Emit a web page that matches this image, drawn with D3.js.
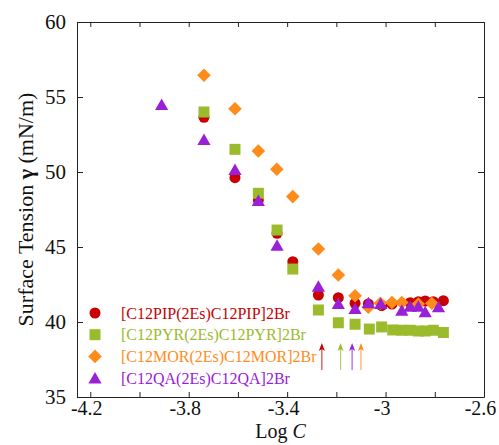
<!DOCTYPE html>
<html>
<head>
<meta charset="utf-8">
<script src="https://cdn.jsdelivr.net/npm/d3@7"></script>
<style>
  body { margin: 0; background: #fff; }
  text { font-family: "Liberation Serif", "Times New Roman", serif; }
</style>
</head>
<body>
<div id="chart"></div>
<script>
// series data (log C, surface tension)
const pipLogC = [-3.738, -3.612, -3.517, -3.441, -3.377, -3.273, -3.192, -3.124, -3.070, -3.016, -2.974, -2.900, -2.867, -2.839, -2.806, -2.765];
const pipGamma = [53.65, 49.62, 48.13, 45.91, 44.02, 41.8, 41.62, 41.25, 41.2, 41.1, 41.2, 41.29, 41.35, 41.4, 41.35, 41.42];

const pyrLogC = [-3.738, -3.612, -3.517, -3.441, -3.377, -3.273, -3.192, -3.124, -3.066, -3.016, -2.971, -2.934, -2.900, -2.867, -2.839, -2.806, -2.765];
const pyrGamma = [54.0, 51.51, 48.58, 46.13, 43.53, 40.8, 39.95, 39.85, 39.53, 39.67, 39.47, 39.45, 39.45, 39.4, 39.4, 39.45, 39.3];

const morLogC = [-3.738, -3.612, -3.517, -3.442, -3.377, -3.273, -3.192, -3.124, -3.070, -3.021, -2.974, -2.934, -2.867, -2.812];
const morGamma = [56.45, 54.22, 51.4, 50.18, 48.36, 44.87, 43.13, 41.75, 40.98, 41.25, 41.3, 41.3, 41.2, 41.25];

const qaLogC = [-3.910, -3.738, -3.612, -3.517, -3.441, -3.273, -3.192, -3.124, -3.070, -3.020, -2.934, -2.900, -2.867, -2.839, -2.785];
const qaGamma = [54.47, 52.13, 50.13, 48.07, 45.08, 42.35, 41.2, 40.87, 41.25, 41.2, 40.75, 41.02, 41.02, 40.65, 40.98];

const seriesNames = ["[C12PIP(2Es)C12PIP]2Br", "[C12PYR(2Es)C12PYR]2Br", "[C12MOR(2Es)C12MOR]2Br", "[C12QA(2Es)C12QA]2Br"];
const seriesColors = ["#c80000", "#9bbb2c", "#ff8c1a", "#9a20d8"];
const seriesShapes = ["circle", "square", "diamond", "triangle"];

// CMC arrows (log C)
const cmcLogC = [-3.259, -3.183, -3.136, -3.100];
const cmcColors = ["#c80000", "#9bbb2c", "#9a20d8", "#ff8c1a"];

const xTicks = [-4.2, -4.0, -3.8, -3.6, -3.4, -3.2, -3.0, -2.8, -2.6];
const xLabelTicks = [-4.2, -3.8, -3.4, -3.0, -2.6];
const yTicks = [35, 40, 45, 50, 55, 60];

const W = 499, H = 445;
const margin = { top: 22, right: 15, bottom: 48, left: 77 };
const serif = '"Liberation Serif", "Times New Roman", serif';

const svg = d3.select("#chart").append("svg")
  .attr("width", W).attr("height", H)
  .attr("font-family", serif);

const x = d3.scaleLinear().domain([-4.254, -2.6]).range([margin.left, W - margin.right]);
const y = d3.scaleLinear().domain([35, 60]).range([H - margin.bottom, margin.top]);

const frameColor = "#222";

function styleAxis(g) {
  g.attr("font-family", serif).attr("font-size", 21);
  g.selectAll("path, line").attr("stroke", frameColor).attr("stroke-width", 1);
  g.selectAll("text").attr("fill", "#111");
}

// bottom axis with labels every 0.4
svg.append("g")
  .attr("transform", `translate(0,${H - margin.bottom})`)
  .call(d3.axisBottom(x).tickValues(xTicks).tickSizeInner(-5).tickSizeOuter(0).tickPadding(4)
    .tickFormat(d => xLabelTicks.includes(d) ? String(d) : ""))
  .call(styleAxis)
  .call(g => g.attr("font-size", 20).selectAll("text").attr("dx", -4));

svg.append("g")
  .attr("transform", `translate(0,${margin.top})`)
  .call(d3.axisTop(x).tickValues(xTicks).tickSizeInner(-5).tickSizeOuter(0).tickFormat(""))
  .call(styleAxis);

svg.append("g")
  .attr("transform", `translate(${margin.left},0)`)
  .call(d3.axisLeft(y).tickValues(yTicks).tickSizeInner(-6).tickSizeOuter(0).tickPadding(11)
    .tickFormat(d => String(d)))
  .call(styleAxis);

svg.append("g")
  .attr("transform", `translate(${W - margin.right},0)`)
  .call(d3.axisRight(y).tickValues(yTicks).tickSizeInner(-6).tickSizeOuter(0).tickFormat(""))
  .call(styleAxis);

// axis titles
const xt = svg.append("text")
  .attr("x", (x.range()[0] + x.range()[1]) / 2)
  .attr("y", 438)
  .attr("text-anchor", "middle")
  .attr("font-size", 20)
  .attr("fill", "#111");
xt.append("tspan").text("Log ");
xt.append("tspan").style("font-style", "italic").text("C");

const yt = svg.append("text")
  .attr("transform", `translate(33,${(y.range()[0] + y.range()[1]) / 2}) rotate(-90)`)
  .attr("text-anchor", "middle")
  .attr("font-size", 22)
  .attr("fill", "#111");
yt.append("tspan").text("Surface Tension ");
yt.append("tspan").style("font-weight", "bold").text("γ");
yt.append("tspan").text(" (mN/m)");

// marker shapes
function shapePath(shape) {
  if (shape === "circle") return "M5.5,0A5.5,5.5,0,1,1,-5.5,0A5.5,5.5,0,1,1,5.5,0Z";
  if (shape === "square") return "M-5.5,-5.5H5.5V5.5H-5.5Z";
  if (shape === "diamond") return "M0,-6.8L6.8,0L0,6.8L-6.8,0Z";
  return "M0,-6.5L6.6,5L-6.6,5Z";
}

const seriesData = [
  d3.zip(pipLogC, pipGamma),
  d3.zip(pyrLogC, pyrGamma),
  d3.zip(morLogC, morGamma),
  d3.zip(qaLogC, qaGamma)
];

seriesData.forEach((pts, i) => {
  svg.append("g")
    .selectAll("path")
    .data(pts)
    .join("path")
    .attr("d", shapePath(seriesShapes[i]))
    .attr("transform", d => `translate(${x(d[0])},${y(d[1])})`)
    .attr("fill", seriesColors[i]);
});

// CMC arrows
const arrowLow = 36.8, arrowHigh = 38.6;
const arrows = svg.append("g");
cmcLogC.forEach((c, i) => {
  const ax = x(c);
  arrows.append("line")
    .attr("x1", ax).attr("x2", ax)
    .attr("y1", y(arrowLow)).attr("y2", y(arrowHigh) + 4)
    .attr("stroke", cmcColors[i]).attr("stroke-width", 1.2).attr("opacity", 0.75);
  arrows.append("path")
    .attr("d", `M${ax},${y(arrowHigh)}L${ax + 3},${y(arrowHigh) + 8}L${ax},${y(arrowHigh) + 6}L${ax - 3},${y(arrowHigh) + 8}Z`)
    .attr("fill", cmcColors[i]);
});

// legend
const legend = svg.append("g").attr("transform", "translate(95,313)");
seriesNames.forEach((name, i) => {
  const row = legend.append("g").attr("transform", `translate(0,${i * 21.7})`);
  row.append("path").attr("d", shapePath(seriesShapes[i])).attr("fill", seriesColors[i])
    .attr("transform", seriesShapes[i] === "triangle" ? "translate(0,0.5)" : null);
  row.append("text")
    .attr("x", 26).attr("dy", "0.35em")
    .attr("font-size", 16)
    .attr("fill", seriesColors[i])
    .text(name);
});
</script>
</body>
</html>
